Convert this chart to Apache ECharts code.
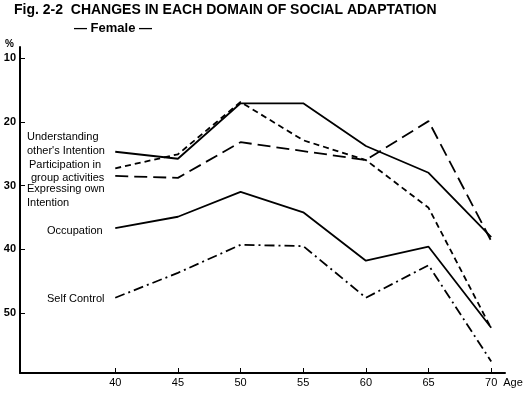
<!DOCTYPE html>
<html>
<head>
<meta charset="utf-8">
<script src="https://cdn.jsdelivr.net/npm/echarts@6/dist/echarts.min.js"></script>
<style>
  html, body { margin: 0; padding: 0; background: #fff; }
  #main { width: 532px; height: 396px; }
</style>
</head>
<body>
<div id="main"></div>
<script>
var ages = [40, 45, 50, 55, 60, 65, 70];
var yTicks = [10, 20, 30, 40, 50];
var understanding = [24.7, 25.8, 17.1, 17.1, 23.8, 28.0, 38.1];
var participation = [27.3, 25.1, 16.9, 22.9, 26.0, 33.5, 52.4];
var expressing = [28.5, 28.8, 23.2, 24.6, 26.0, 19.9, 38.7];
var occupation = [36.7, 34.9, 31.0, 34.2, 41.8, 39.6, 52.3];
var selfControl = [47.6, 43.7, 39.3, 39.5, 47.6, 42.5, 57.6];

function pairs(vals) {
  var out = [];
  for (var i = 0; i < ages.length; i++) {
    out.push([ages[i], vals[i]]);
  }
  return out;
}

var font = '"Liberation Sans", Arial, sans-serif';

function mkLine(name, vals, type) {
  return {
    name: name,
    type: 'line',
    data: pairs(vals),
    symbol: 'none',
    lineStyle: { color: '#000', width: 1.8, type: type },
    silent: true
  };
}

var chart = echarts.init(document.getElementById('main'));
var option = {
  backgroundColor: '#fff',
  animation: false,
  textStyle: { fontFamily: font },
  graphic: [
    { type: 'text', left: 14, top: 3, style: { text: 'Fig. 2-2  CHANGES IN EACH DOMAIN OF SOCIAL ADAPTATION', font: 'bold 14px ' + font, fill: '#000' } },
    { type: 'text', left: 74, top: 22, style: { text: '— Female —', font: 'bold 13px ' + font, fill: '#000' } },
    { type: 'text', left: 27, top: 130, style: { text: 'Understanding\nother\'s Intention', font: '11px ' + font, lineHeight: 14, fill: '#000' } },
    { type: 'text', left: 29, top: 159, style: { text: 'Participation in', font: '11px ' + font, fill: '#000' } },
    { type: 'text', left: 31, top: 172, style: { text: 'group activities', font: '11px ' + font, fill: '#000' } },
    { type: 'text', left: 27, top: 182, style: { text: 'Expressing own\nIntention', font: '11px ' + font, lineHeight: 14, fill: '#000' } },
    { type: 'text', left: 47, top: 225, style: { text: 'Occupation', font: '11px ' + font, fill: '#000' } },
    { type: 'text', left: 47, top: 293, style: { text: 'Self Control', font: '11px ' + font, fill: '#000' } }
  ],
  grid: { left: 20, right: 27, top: 47, bottom: 23, containLabel: false },
  xAxis: {
    type: 'value',
    min: 32.4,
    max: 71.1,
    name: 'Age',
    nameLocation: 'end',
    nameGap: -3,
    nameTextStyle: { color: '#000', fontSize: 11, verticalAlign: 'top', padding: [4, 0, 0, 0] },
    axisLine: { lineStyle: { color: '#000', width: 2 } },
    axisTick: { inside: true, length: 5, lineStyle: { color: '#000' }, customValues: ages },
    axisLabel: { color: '#000', fontSize: 11, margin: 4, customValues: ages },
    splitLine: { show: false }
  },
  yAxis: {
    type: 'value',
    inverse: true,
    min: 8.27,
    max: 59.41,
    name: '%',
    nameLocation: 'start',
    nameGap: -2,
    nameTextStyle: { color: '#000', fontSize: 10, fontWeight: 'bold', align: 'right', padding: [0, 6, 0, 0] },
    axisLine: { show: true, lineStyle: { color: '#000', width: 2 } },
    axisTick: { show: true, inside: true, length: 5, lineStyle: { color: '#000' }, customValues: yTicks },
    axisLabel: { color: '#000', fontSize: 11, fontWeight: 'bold', margin: 4, customValues: yTicks },
    splitLine: { show: false }
  },
  series: [
    mkLine('Understanding other\'s Intention', understanding, 'solid'),
    mkLine('Participation in group activities', participation, [6, 4]),
    mkLine('Expressing own Intention', expressing, [13, 6]),
    mkLine('Occupation', occupation, 'solid'),
    mkLine('Self Control', selfControl, [10, 4, 2, 4])
  ]
};
chart.setOption(option);
</script>
</body>
</html>
